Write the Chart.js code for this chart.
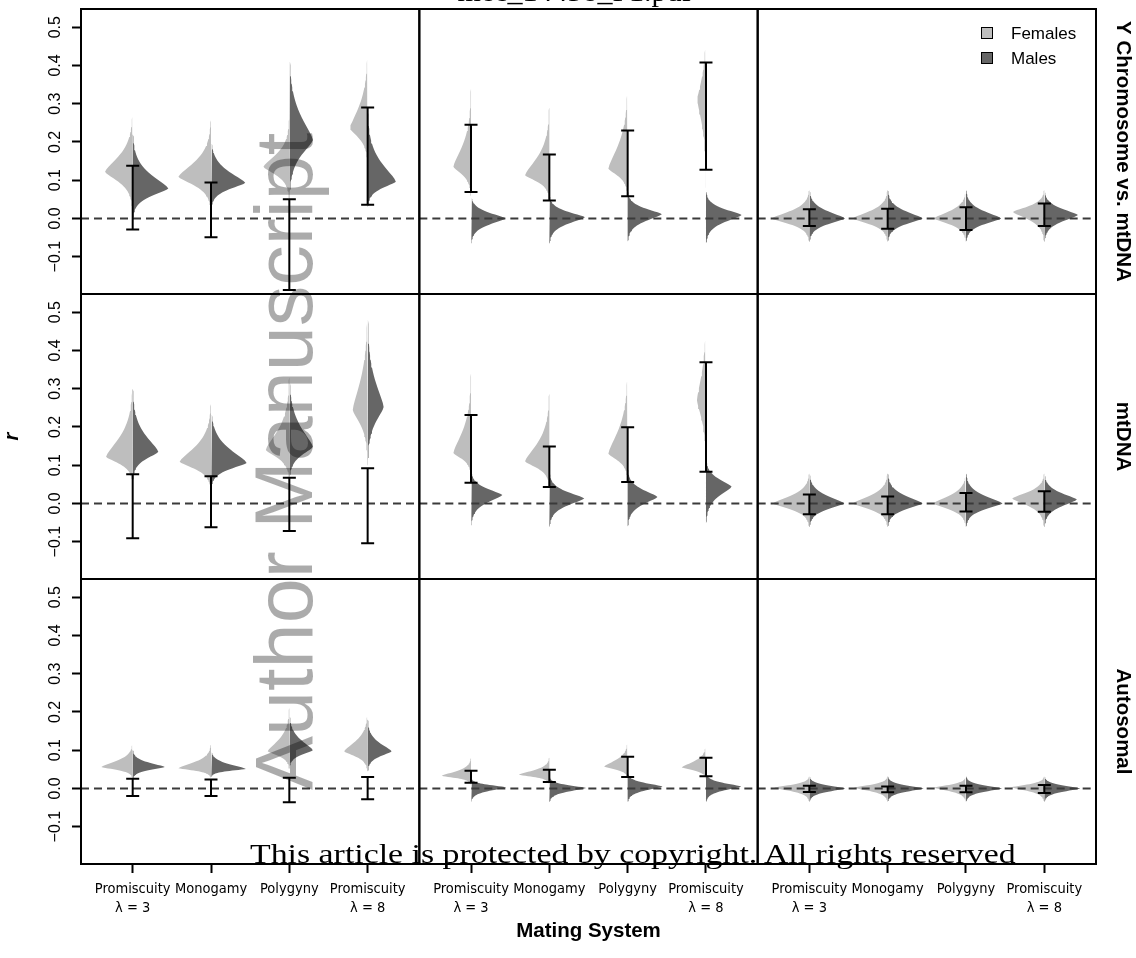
<!DOCTYPE html>
<html>
<head>
<meta charset="utf-8">
<script src="https://cdn.jsdelivr.net/npm/chart.js@4.4.1/dist/chart.umd.min.js"></script>
<style>
  html, body { margin: 0; padding: 0; background: #fff; }
  #wrap { position: relative; width: 1136px; height: 958px; overflow: hidden; }
  #violinChart { position: absolute; left: 0; top: 0; }
  .txt { position: absolute; white-space: nowrap; line-height: 1; }
  #docTitle { font-family: 'Liberation Serif', serif; font-size: 30px; color: #000; top: -24px; left: 0; width: 1149px; text-align: center; }
  #watermark { font-family: 'Liberation Sans', Arial, sans-serif; font-size: 81px; color: rgba(0,0,0,0.33);
               left: 244px; top: 790px; transform-origin: 0 0; transform: rotate(-90deg); }
  #copyright { font-family: 'Liberation Serif', serif; font-size: 28px; color: #000; left: 250px; top: 840px; transform-origin: 0 0; }
  .sw { position: absolute; width: 10px; height: 10px; border: 1px solid #000; }
  .lg { font-family: 'Liberation Sans', Arial, sans-serif; font-size: 17px; color: #000; }
</style>
</head>
<body>
<div id="wrap">
  <canvas id="violinChart" width="1136" height="958"></canvas>
  <div id="docTitle" class="txt">mec_14438_F1.pdf</div>
  <span class="sw" style="left:981px;top:27px;background:#bebebe"></span>
  <div class="txt lg" style="left:1011px;top:25px">Females</div>
  <span class="sw" style="left:981px;top:52px;background:#666666"></span>
  <div class="txt lg" style="left:1011px;top:50px">Males</div>
  <div id="watermark" class="txt">Author Manuscript</div>
  <div id="copyright" class="txt">This article is protected by copyright. All rights reserved</div>
</div>
<script>
// mating systems along x, panels are row*3 + col
const mateLabels = [['Promiscuity', 'λ = 3'], ['Monogamy'], ['Polygyny'], ['Promiscuity', 'λ = 8']];
const catPositions = [1, 2, 3, 4];
const rowNames = ['Y Chromosome vs. mtDNA', 'mtDNA', 'Autosomal'];
const yTicks = [-0.1, 0.0, 0.1, 0.2, 0.3, 0.4, 0.5];

// females (left half of each violin)
const femMode = [
  [0.122, 0.109, 0.135, 0.235], [0.135, 0.113, 0.130, 0.310], [0.000, 0.000, 0.000, 0.017],
  [0.122, 0.109, 0.140, 0.244], [0.132, 0.110, 0.130, 0.270], [0.000, 0.000, 0.000, 0.013],
  [0.056, 0.053, 0.097, 0.097], [0.033, 0.036, 0.057, 0.055], [0.002, 0.002, 0.002, 0.003]
];
const femLow = [
  [0.020, 0.020, 0.050, 0.140], [0.057, 0.048, 0.057, 0.080], [-0.060, -0.060, -0.060, -0.060],
  [0.052, 0.035, 0.060, 0.104], [0.070, 0.043, 0.060, 0.087], [-0.061, -0.061, -0.061, -0.061],
  [0.027, 0.028, 0.050, 0.044], [0.010, 0.012, 0.027, 0.025], [-0.034, -0.034, -0.034, -0.034]
];
const femHigh = [
  [0.278, 0.257, 0.260, 0.450], [0.339, 0.290, 0.360, 0.520], [0.074, 0.074, 0.074, 0.074],
  [0.313, 0.260, 0.330, 0.530], [0.340, 0.287, 0.357, 0.520], [0.078, 0.078, 0.078, 0.078],
  [0.118, 0.114, 0.210, 0.200], [0.079, 0.080, 0.123, 0.114], [0.031, 0.031, 0.031, 0.031]
];
const femWidth = [
  [0.353, 0.416, 0.330, 0.225], [0.225, 0.310, 0.246, 0.110], [0.480, 0.446, 0.410, 0.400],
  [0.340, 0.400, 0.300, 0.190], [0.225, 0.310, 0.246, 0.115], [0.467, 0.446, 0.420, 0.410],
  [0.400, 0.416, 0.276, 0.300], [0.373, 0.390, 0.300, 0.310], [0.450, 0.430, 0.410, 0.420]
];

// males (right half)
const maleMode = [
  [0.078, 0.093, 0.205, 0.096], [0.000, 0.003, 0.011, 0.009], [0.000, 0.000, 0.000, 0.009],
  [0.135, 0.106, 0.148, 0.252], [0.022, 0.013, 0.017, 0.044], [0.000, 0.000, 0.000, 0.010],
  [0.056, 0.051, 0.100, 0.097], [0.003, 0.001, 0.005, 0.005], [0.000, 0.000, 0.000, 0.000]
];
const maleLow = [
  [0.000, 0.025, 0.050, 0.030], [-0.065, -0.065, -0.060, -0.065], [-0.060, -0.060, -0.060, -0.060],
  [0.060, 0.040, 0.060, 0.100], [-0.057, -0.060, -0.060, -0.052], [-0.061, -0.061, -0.061, -0.061],
  [0.025, 0.030, 0.053, 0.045], [-0.034, -0.035, -0.035, -0.035], [-0.034, -0.034, -0.034, -0.034]
];
const maleHigh = [
  [0.220, 0.210, 0.440, 0.280], [0.060, 0.060, 0.070, 0.070], [0.074, 0.074, 0.074, 0.074],
  [0.300, 0.250, 0.340, 0.500], [0.087, 0.080, 0.090, 0.120], [0.078, 0.078, 0.078, 0.078],
  [0.100, 0.100, 0.200, 0.180], [0.027, 0.030, 0.040, 0.040], [0.031, 0.031, 0.031, 0.031]
];
const maleWidth = [
  [0.455, 0.437, 0.300, 0.360], [0.440, 0.455, 0.437, 0.455], [0.455, 0.446, 0.450, 0.430],
  [0.327, 0.455, 0.300, 0.204], [0.400, 0.446, 0.380, 0.327], [0.446, 0.446, 0.467, 0.416],
  [0.410, 0.446, 0.300, 0.306], [0.450, 0.470, 0.446, 0.450], [0.460, 0.460, 0.460, 0.460]
];

// error bars
const errLow = [
  [-0.029, -0.049, -0.187, 0.036], [0.069, 0.047, 0.058, 0.127], [-0.020, -0.027, -0.030, -0.020],
  [-0.091, -0.062, -0.072, -0.104], [0.054, 0.043, 0.056, 0.083], [-0.028, -0.028, -0.021, -0.022],
  [-0.020, -0.020, -0.036, -0.028], [0.015, 0.0165, 0.030, 0.032], [-0.0096, -0.010, -0.010, -0.012]
];
const errHigh = [
  [0.138, 0.094, 0.050, 0.290], [0.245, 0.167, 0.230, 0.408], [0.024, 0.025, 0.029, 0.039],
  [0.076, 0.071, 0.067, 0.092], [0.2315, 0.149, 0.199, 0.369], [0.0235, 0.018, 0.027, 0.032],
  [0.025, 0.0235, 0.028, 0.030], [0.046, 0.049, 0.083, 0.080], [0.007, 0.005, 0.007, 0.009]
];

const X_MIN = 0.34, X_MAX = 4.66;
const Y_MIN = -0.1976, Y_MAX = 0.5476;
const FEMALE = '#bebebe', MALE = '#666666';
const SANS = "'Liberation Sans', Arial, sans-serif";
const NARROW = "'Liberation Sans Narrow', 'Arial Narrow', 'DejaVu Sans Condensed', sans-serif";

// outline of one half violin: side -1 = left, +1 = right
function halfViolin(center, side, mode, low, high, width) {
  const pts = [];
  const n = 24;
  const prof = (y) => {
    const d = y - mode;
    const s = (d < 0 ? mode - low : high - mode) / 2.9;
    return s > 0 ? Math.exp(-Math.pow(Math.abs(d) / s, 1.4)) : 0;
  };
  for (let k = 0; k <= n; k++) {
    const y = low + (mode - low) * k / n;
    pts.push({ x: center + side * width * (k === 0 ? 0 : prof(y)), y });
  }
  for (let k = 1; k <= n; k++) {
    const y = mode + (high - mode) * k / n;
    pts.push({ x: center + side * width * (k === n ? 0 : prof(y)), y });
  }
  pts.push({ x: center, y: low });
  return pts;
}

const datasets = [];
for (let p = 0; p < 9; p++) {
  const row = Math.floor(p / 3), col = p % 3;
  const xId = 'x' + col, yId = 'y' + row;

  const bars = [];
  catPositions.forEach((cx, i) => {
    bars.push({ x: cx, y: errLow[p][i] }, { x: cx, y: errHigh[p][i] }, { x: cx + 0.5, y: null });
  });
  datasets.push({
    label: 'err' + p, xAxisID: xId, yAxisID: yId, order: 0, data: bars,
    borderColor: '#000', borderWidth: 2, spanGaps: false,
    pointStyle: 'line', pointRadius: 6.5, pointBorderWidth: 2, pointBorderColor: '#000', pointHoverRadius: 6.5
  });

  datasets.push({
    label: 'zero' + p, xAxisID: xId, yAxisID: yId, order: 1,
    data: [{ x: X_MIN, y: 0 }, { x: X_MAX, y: 0 }],
    borderColor: '#3a3a3a', borderWidth: 2, borderDash: [8, 5], pointRadius: 0
  });

  catPositions.forEach((cx, i) => {
    datasets.push({
      label: 'Females', xAxisID: xId, yAxisID: yId, order: 2,
      data: halfViolin(cx, -1, femMode[p][i], femLow[p][i], femHigh[p][i], femWidth[p][i]),
      borderWidth: 0, borderColor: 'rgba(0,0,0,0)', backgroundColor: FEMALE, fill: 'shape', pointRadius: 0
    });
    datasets.push({
      label: 'Males', xAxisID: xId, yAxisID: yId, order: 2,
      data: halfViolin(cx, 1, maleMode[p][i], maleLow[p][i], maleHigh[p][i], maleWidth[p][i]),
      borderWidth: 0, borderColor: 'rgba(0,0,0,0)', backgroundColor: MALE, fill: 'shape', pointRadius: 0
    });
  });
}

const fmtTick = (v) => (v < 0 ? '\u2212' + Math.abs(v).toFixed(1) : v.toFixed(1));

const scales = {};
// left boxes are stacked from the bottom up, so add the bottom row first
for (let r = 2; r >= 0; r--) {
  scales['y' + r] = {
    type: 'linear', position: 'left', stack: 'rows', stackWeight: 1,
    min: Y_MIN, max: Y_MAX,
    afterBuildTicks: (s) => { s.ticks = yTicks.map(v => ({ value: v })); },
    afterFit: (s) => { s.width = 81; s.paddingTop = 0; s.paddingBottom = 0; },
    ticks: {
      autoSkip: false, minRotation: 90, maxRotation: 90, crossAlign: 'center', padding: 1, color: '#000',
      font: { family: SANS, size: 16 }, callback: (v) => fmtTick(v)
    },
    grid: { drawOnChartArea: false, drawTicks: true, tickLength: 9, tickWidth: 2, tickColor: '#000' },
    border: { display: true, color: '#000', width: 2 },
    title: {
      display: r === 1, text: 'r', color: '#000', padding: { top: 0, bottom: 0 },
      font: { family: SANS, size: 20, weight: 'bold', style: 'italic' }
    }
  };
}
for (let r = 0; r < 3; r++) {
  scales['r' + r] = {
    type: 'linear', position: 'right', stack: 'rowsRight', stackWeight: 1, min: 0, max: 1,
    afterFit: (s) => { s.width = 40; },
    ticks: { display: false }, grid: { display: false }, border: { display: false },
    title: {
      display: true, text: rowNames[r], color: '#000', padding: { top: 1, bottom: 0 },
      font: { family: SANS, size: 20.5, weight: 'bold' }
    }
  };
}
for (let c = 0; c < 3; c++) {
  scales['x' + c] = {
    type: 'linear', position: 'bottom', stack: 'cols', stackWeight: 1,
    min: X_MIN, max: X_MAX,
    afterBuildTicks: (s) => { s.ticks = catPositions.map(v => ({ value: v })); },
    afterFit: (s) => { s.height = 94; s.paddingLeft = 0; s.paddingRight = 0; },
    ticks: {
      autoSkip: false, minRotation: 0, maxRotation: 0, padding: 6, color: '#000',
      font: { family: NARROW, size: 14.5, lineHeight: 1.35 }, callback: (v, i) => mateLabels[i]
    },
    grid: { drawOnChartArea: false, drawTicks: true, tickLength: 9, tickWidth: 2, tickColor: '#000' },
    border: { display: true, color: '#000', width: 2 },
    title: {
      display: c === 1, text: 'Mating System', color: '#000', padding: { top: 0, bottom: 14 },
      font: { family: SANS, size: 20.5, weight: 'bold' }
    }
  };
}

// box around every panel
const panelFrame = {
  id: 'panelFrame',
  afterDatasetsDraw(chart) {
    const ctx = chart.ctx;
    ctx.save();
    ctx.strokeStyle = '#000';
    ctx.lineWidth = 2;
    for (let r = 0; r < 3; r++) {
      for (let c = 0; c < 3; c++) {
        const xs = chart.scales['x' + c], ys = chart.scales['y' + r];
        ctx.strokeRect(xs.left, ys.top, xs.right - xs.left, ys.bottom - ys.top);
      }
    }
    ctx.restore();
  }
};

new Chart(document.getElementById('violinChart'), {
  type: 'line',
  data: { datasets },
  options: {
    responsive: false,
    animation: false,
    devicePixelRatio: 1,
    layout: { padding: { top: 9, left: 0, right: 0, bottom: 0 } },
    plugins: { legend: { display: false }, tooltip: { enabled: false } },
    scales
  },
  plugins: [panelFrame]
});

// squeeze the footer line to the width it has in the figure
const cp = document.getElementById('copyright');
cp.style.transform = 'scaleX(' + (766 / cp.offsetWidth) + ')';
</script>
</body>
</html>
